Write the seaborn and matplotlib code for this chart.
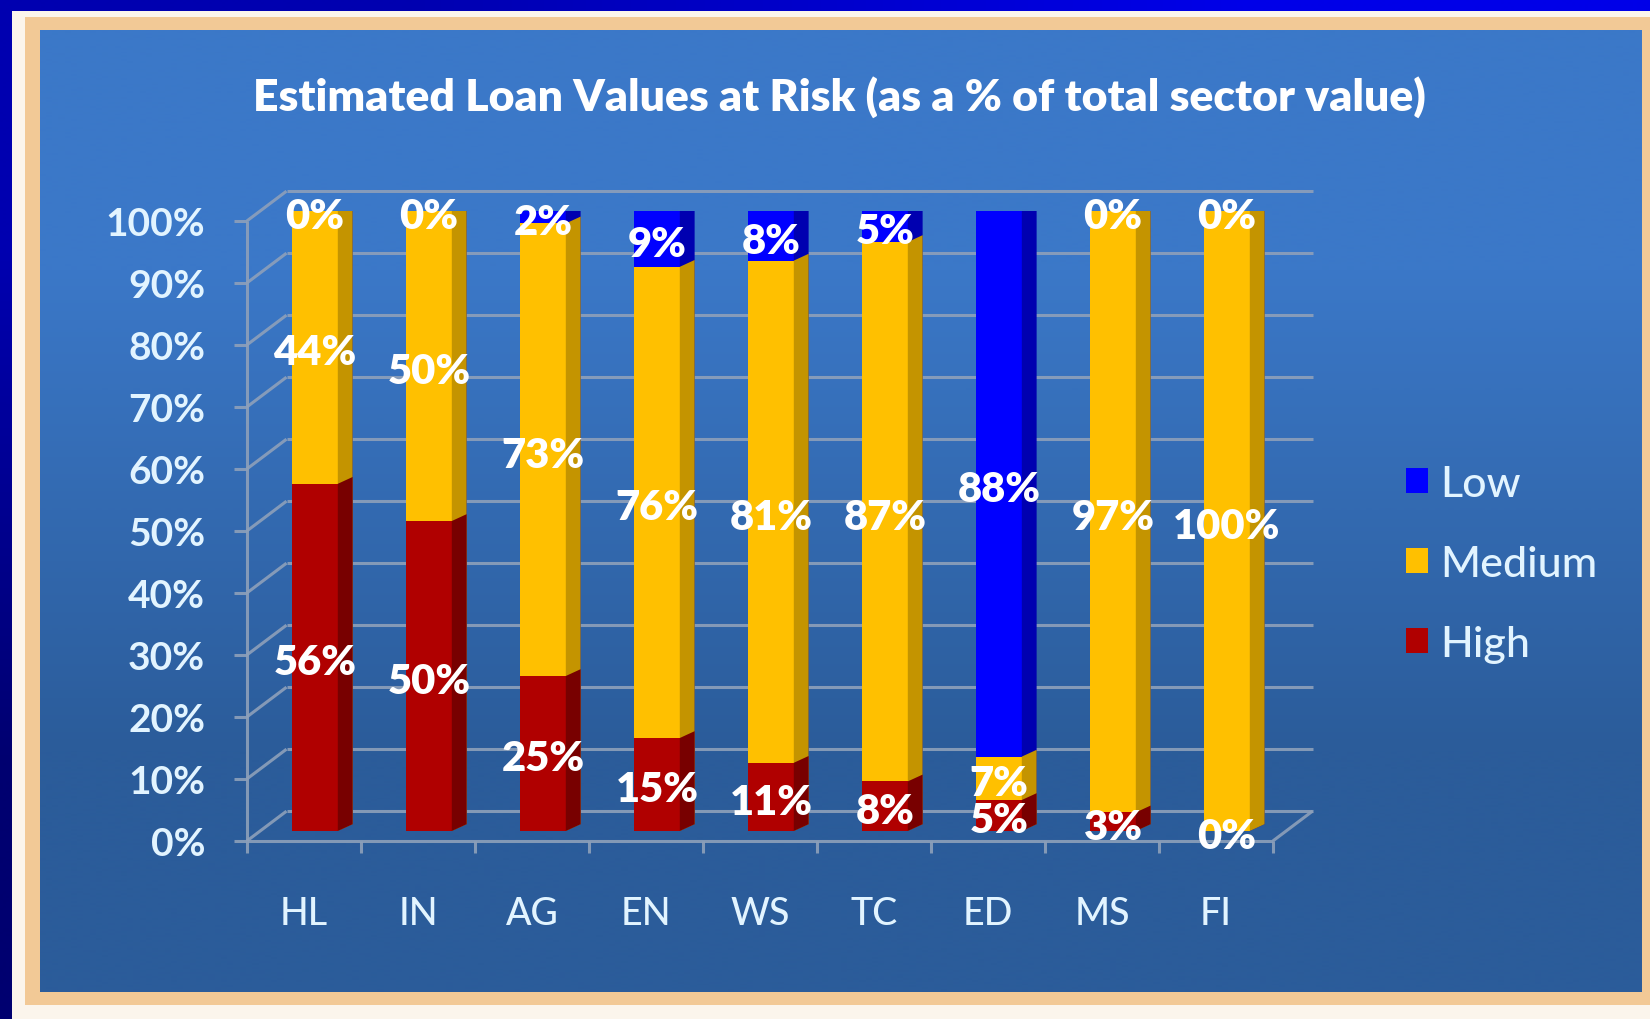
"""Estimated loan values at risk - stacked pseudo-3D bar chart."""

import matplotlib

matplotlib.use("Agg")
import matplotlib.pyplot as plt
import matplotlib.transforms as mtransforms
import numpy as np
import seaborn as sns
from matplotlib.patches import Patch, Polygon, Rectangle

# ---- data -------------------------------------------------------------
sectors = ["HL", "IN", "AG", "EN", "WS", "TC", "ED", "MS", "FI"]
low = [0, 0, 2, 9, 8, 5, 88, 0, 0]
medium = [44, 50, 73, 76, 81, 87, 7, 97, 100]
high = [56, 50, 25, 15, 11, 8, 5, 3, 0]
y_ticks = [0, 10, 20, 30, 40, 50, 60, 70, 80, 90, 100]
y_tick_labels = ["0%", "10%", "20%", "30%", "40%", "50%", "60%", "70%", "80%", "90%", "100%"]
series_names = ["Low", "Medium", "High"]
title = "Estimated Loan Values at Risk (as a % of total sector value)"

# ---- style ------------------------------------------------------------
W, H = 1650, 1020
FACE = {"Low": "#0000FF", "Medium": "#FFC000", "High": "#B00000"}
SIDE = {"Low": "#0000B0", "Medium": "#C49400", "High": "#780000"}
TOP_COLOR = "#000090"
GRID = "#8EA0BA"
TICK_TXT = "#E2F4FF"
BAR_W = 0.40
DEPTH_X, DEPTH_Y = 0.13, 1.1     # bar side/top depth (data units)
FRONT_DX, FRONT_DY = -0.097, -1.6  # front floor plane offset
BACK_DX, BACK_DY = 0.25, 3.2       # back wall offset

sns.set_style("white")
plt.rcParams["font.family"] = ["Lato", "DejaVu Sans"]

fig = plt.figure(figsize=(W / 100, H / 100), dpi=100)

# backdrop: navy border, cream/peach frame, blue gradient panel
bg = fig.add_axes([0, 0, 1, 1])
navy = np.array([[[0, 0, 176], [0, 0, 232]], [[0, 0, 112], [0, 0, 160]]]) / 255
bg.imshow(navy, extent=(0, W, H, 0), interpolation="bilinear", aspect="auto", zorder=0)
bg.add_patch(Rectangle((12, 12), W - 12, H - 12, fc="#FBF5EC", ec="none", zorder=1))
bg.add_patch(Rectangle((25, 18), W - 25, 988, fc="#F2C996", ec="none", zorder=2))
panel = np.array([[[59, 120, 200]], [[43, 92, 154]]]) / 255
bg.imshow(panel, extent=(40, 1642, 993, 31), interpolation="bilinear", aspect="auto", zorder=3)
bg.set_xlim(0, W)
bg.set_ylim(H, 0)
bg.axis("off")

# main axes: data plane = front face of the bars
x0, x1 = 258, 1284
y_bot, y_top = 832, 212
ax = fig.add_axes([x0 / W, 1 - y_bot / H, (x1 - x0) / W, (y_bot - y_top) / H])
ax.set_facecolor("none")

# walls / grid
n = len(sectors)
left_f, right_f = -0.5 + FRONT_DX, n - 0.5 + FRONT_DX
left_b, right_b = -0.5 + BACK_DX, n - 0.5 + BACK_DX
gkw = dict(color=GRID, lw=2.2, alpha=0.9, clip_on=False, zorder=1, solid_capstyle="butt")
for v in y_ticks:
    ax.plot([left_b, right_b], [v + BACK_DY, v + BACK_DY], **gkw)
    ax.plot([left_f, left_b], [v + FRONT_DY, v + BACK_DY], **gkw)
    ax.plot([left_f - 0.11, left_f], [v + FRONT_DY, v + FRONT_DY], **gkw)
ax.plot([left_f, left_f], [FRONT_DY, 100 + FRONT_DY], **gkw)
ax.plot([left_f, right_f], [FRONT_DY, FRONT_DY], **gkw)
ax.plot([right_f, right_b], [FRONT_DY, BACK_DY], **gkw)
for i in range(n + 1):
    xt = -0.5 + i + FRONT_DX
    ax.plot([xt, xt], [FRONT_DY, FRONT_DY - 2.0], **gkw)

# stacked bars: draw cumulative totals, tallest first
cum_mh = [m + h for m, h in zip(medium, high)]
cum_all = [lo + m + h for lo, m, h in zip(low, medium, high)]
layers = [("Low", cum_all), ("Medium", cum_mh), ("High", high)]
for k, (name, vals) in enumerate(layers):
    n0 = len(ax.patches)
    sns.barplot(x=sectors, y=vals, color=FACE[name], saturation=1, width=BAR_W,
                errorbar=None, ax=ax)
    for p in ax.patches[n0:]:
        p.set_zorder(3 + k)
        p.set_edgecolor("none")
        bx, bw, bh = p.get_x(), p.get_width(), p.get_height()
        side = Polygon([(bx + bw, 0), (bx + bw + DEPTH_X, DEPTH_Y),
                        (bx + bw + DEPTH_X, bh + DEPTH_Y), (bx + bw, bh)],
                       closed=True, fc=SIDE[name], ec="none", zorder=3 + k)
        ax.add_patch(side)
        if k == 0:
            top = Polygon([(bx, bh), (bx + DEPTH_X, bh + DEPTH_Y),
                           (bx + bw + DEPTH_X, bh + DEPTH_Y), (bx + bw, bh)],
                          closed=True, fc=TOP_COLOR, ec="none", zorder=3)
            ax.add_patch(top)

# value labels
for i in range(n):
    segs = [(high[i], 0), (medium[i], high[i]), (low[i], high[i] + medium[i])]
    for v, b in segs:
        ax.text(i, b + v / 2 - 0.8, f"{v}%", ha="center", va="center", color="white",
                fontsize=30, fontweight="heavy", zorder=10, clip_on=False)

ax.set_xlim(-0.5, n - 0.5)
ax.set_ylim(0, 100)
ax.set_xlabel("")
ax.set_ylabel("")
for s in ax.spines.values():
    s.set_visible(False)

ax.set_yticks(y_ticks)
ax.set_yticklabels(y_tick_labels)
ax.tick_params(axis="y", length=0, pad=38, labelsize=28, labelcolor=TICK_TXT)
for lbl in ax.get_yticklabels():
    lbl.set_fontweight("bold")
    lbl.set_transform(lbl.get_transform() + mtransforms.ScaledTranslation(0, -0.10, fig.dpi_scale_trans))

ax.set_xticks(range(n))
ax.set_xticklabels(sectors)
ax.tick_params(axis="x", length=0, pad=47, labelsize=27, labelcolor=TICK_TXT)
for lbl in ax.get_xticklabels():
    lbl.set_fontweight("medium")
    lbl.set_transform(lbl.get_transform() + mtransforms.ScaledTranslation(-0.11, 0, fig.dpi_scale_trans))

# title and legend
fig.text(839 / W, 1 - 97 / H, title, ha="center", va="center", color="white",
         fontsize=32, fontweight="heavy")
handles = [Patch(facecolor=FACE[s], edgecolor="none", label=s) for s in series_names]
fig.legend(handles=handles, loc="upper left", bbox_to_anchor=(1406 / W, 1 - 466 / H),
           frameon=False, prop={"size": 31, "weight": "medium"}, handlelength=0.5,
           handleheight=0.5, handletextpad=0.3, labelspacing=0.97, borderpad=0,
           borderaxespad=0, labelcolor=TICK_TXT)

fig.savefig("out.png", dpi=100)
